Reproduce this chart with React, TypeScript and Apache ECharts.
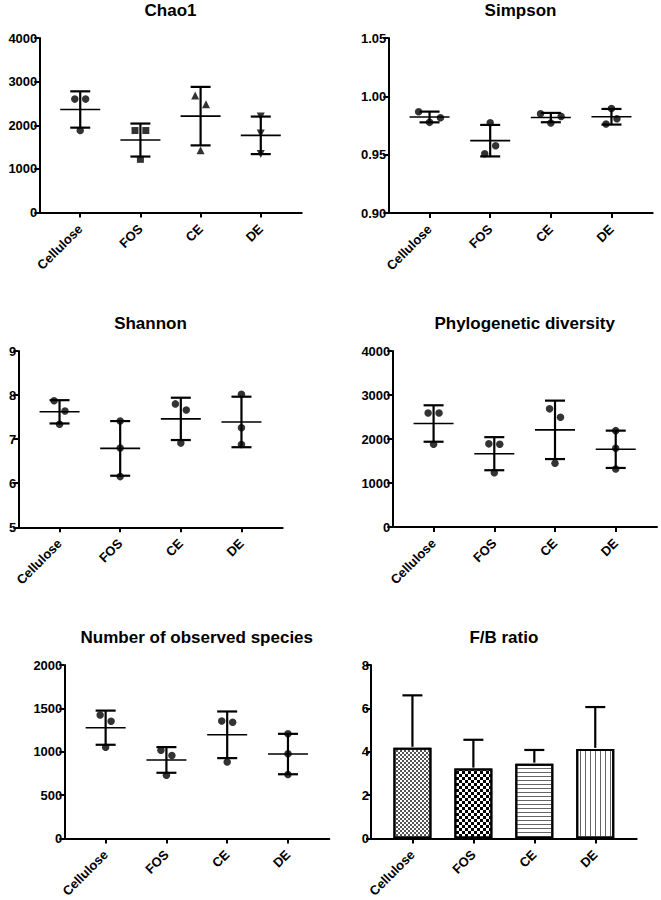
import React, { useEffect, useRef } from 'react';
import * as echarts from 'echarts';

// ---------- data ----------
const categories = ['Cellulose', 'FOS', 'CE', 'DE'];
const tickPositions = [0, 1, 2, 3];

const chao1Points = [[2600, 2600, 1880], [1880, 1880, 1220], [2680, 2480, 1430], [2200, 1810, 1340]];
const chao1Jitter = [[-0.09, 0.09, 0], [-0.09, 0.09, 0], [-0.09, 0.09, 0], [0, 0, 0]];
const chao1Mean = [2362, 1662, 2210, 1770];
const chao1SD = [416, 378, 670, 430];
const chao1Symbols = ['circle', 'rect', 'triangle', 'triangleDown'];

const simpsonPoints = [[0.9868, 0.9817, 0.9777], [0.9774, 0.9577, 0.9508], [0.9851, 0.9828, 0.9771], [0.9896, 0.9808, 0.9763]];
const simpsonJitter = [[-0.18, 0.18, 0], [0, 0.09, -0.09], [-0.17, 0.17, 0], [0, 0.09, -0.09]];
const simpsonMean = [0.9823, 0.962, 0.9818, 0.9825];
const simpsonSD = [0.0046, 0.0135, 0.004, 0.0067];

const shannonPoints = [[7.87, 7.64, 7.34], [7.41, 6.8, 6.15], [7.8, 7.66, 6.91], [8.02, 7.26, 6.88]];
const shannonJitter = [[-0.09, 0.09, 0], [0, 0, 0], [-0.09, 0.09, 0], [0, 0, 0]];
const shannonMean = [7.62, 6.79, 7.46, 7.39];
const shannonSD = [0.264, 0.62, 0.48, 0.573];

const phyloPoints = [[2590, 2590, 1880], [1890, 1880, 1235], [2685, 2495, 1450], [2190, 1790, 1320]];
const phyloJitter = [[-0.09, 0.09, 0], [-0.09, 0.09, 0], [-0.09, 0.09, 0], [0, 0, 0]];
const phyloMean = [2352, 1666, 2208, 1766];
const phyloSD = [414, 376, 664, 424];

const speciesPoints = [[1423, 1351, 1052], [1017, 956, 728], [1355, 1340, 881], [1207, 976, 737]];
const speciesJitter = [[-0.09, 0.09, 0], [-0.09, 0.09, 0], [-0.09, 0.09, 0], [0, 0, 0]];
const speciesMean = [1277, 905, 1195, 973];
const speciesSD = [197, 148, 269, 233];

const fbMean = [4.18, 3.22, 3.45, 4.13];
const fbSD = [2.42, 1.33, 0.63, 1.93];

const FONT = '"Liberation Sans", Arial, Helvetica, sans-serif';

const fbDecals = [
  { symbol: 'rect', symbolSize: 1, dashArrayX: [[2, 2], [0, 2, 2, 0]], dashArrayY: [2, 0], color: '#555', backgroundColor: '#fff' },
  { symbol: 'rect', symbolSize: 1, dashArrayX: [[3, 3], [0, 3, 3, 0]], dashArrayY: [3, 0], color: '#000', backgroundColor: '#fff' },
  { symbol: 'rect', symbolSize: 1, dashArrayX: [1, 0], dashArrayY: [1, 3], color: '#666', backgroundColor: '#fff' },
  { symbol: 'rect', symbolSize: 1, dashArrayX: [1, 4], dashArrayY: [1, 0], color: '#666', backgroundColor: '#fff' },
];

type Panel = {
  title: string;
  grid: { left: number; top: number; width: number; height: number };
  yMin: number; yMax: number; yInterval: number; decimals: number;
  points?: number[][]; jitter?: number[][]; symbols?: string[];
  mean: number[]; sd: number[]; bars?: boolean;
};

const panels: Panel[] = [
  { title: 'Chao1', grid: { left: 39.3, top: 38, width: 262.4, height: 174.6 }, yMin: 0, yMax: 4000, yInterval: 1000, decimals: 0,
    points: chao1Points, jitter: chao1Jitter, symbols: chao1Symbols, mean: chao1Mean, sd: chao1SD },
  { title: 'Simpson', grid: { left: 388.3, top: 38, width: 264.4, height: 175 }, yMin: 0.9, yMax: 1.05, yInterval: 0.05, decimals: 2,
    points: simpsonPoints, jitter: simpsonJitter, mean: simpsonMean, sd: simpsonSD },
  { title: 'Shannon', grid: { left: 18.3, top: 351, width: 264.4, height: 176.3 }, yMin: 5, yMax: 9, yInterval: 1, decimals: 0,
    points: shannonPoints, jitter: shannonJitter, mean: shannonMean, sd: shannonSD },
  { title: 'Phylogenetic diversity', grid: { left: 392.3, top: 351, width: 264.7, height: 176 }, yMin: 0, yMax: 4000, yInterval: 1000, decimals: 0,
    points: phyloPoints, jitter: phyloJitter, mean: phyloMean, sd: phyloSD },
  { title: 'Number of observed species', grid: { left: 64.3, top: 665, width: 265, height: 175.7 }, yMin: 0, yMax: 2000, yInterval: 500, decimals: 0,
    points: speciesPoints, jitter: speciesJitter, mean: speciesMean, sd: speciesSD },
  { title: 'F/B ratio', grid: { left: 371, top: 665, width: 265.7, height: 175.7 }, yMin: 0, yMax: 8, yInterval: 2, decimals: 0,
    mean: fbMean, sd: fbSD, bars: true },
];

function buildOption() {
  const grids: any[] = [];
  const xAxes: any[] = [];
  const yAxes: any[] = [];
  const series: any[] = [];
  const graphics: any[] = [];

  panels.forEach((p, i) => {
    grids.push({ ...p.grid, containLabel: false });
    xAxes.push({
      type: 'value', gridIndex: i, min: -0.68, max: 3.68,
      axisLine: { show: true, onZero: false, lineStyle: { color: '#000', width: 2 } },
      axisTick: { show: true, customValues: tickPositions, length: 5, lineStyle: { color: '#000', width: 2 } },
      axisLabel: {
        show: true, customValues: tickPositions, rotate: 45, margin: 14,
        formatter: (v: number) => categories[Math.round(v)] ?? '',
        color: '#000', fontFamily: FONT, fontWeight: 'bold', fontSize: 13,
      },
      splitLine: { show: false },
    });
    yAxes.push({
      type: 'value', gridIndex: i, min: p.yMin, max: p.yMax, interval: p.yInterval,
      axisLine: { show: true, onZero: false, lineStyle: { color: '#000', width: 2 } },
      axisTick: { show: true, length: 5, lineStyle: { color: '#000', width: 2 } },
      axisLabel: {
        show: true, margin: 2, color: '#000', fontFamily: FONT, fontWeight: 'bold', fontSize: 13,
        formatter: (v: number) => v.toFixed(p.decimals),
      },
      splitLine: { show: false },
    });

    graphics.push({
      type: 'text', x: p.grid.left + p.grid.width / 2, y: p.grid.top - 27.5,
      style: {
        text: p.title, fill: '#000', font: `bold 17px ${FONT}`,
        align: 'center', verticalAlign: 'middle', textAlign: 'center', textVerticalAlign: 'middle',
      },
    });

    if (p.bars) {
      series.push({
        type: 'bar', xAxisIndex: i, yAxisIndex: i, barWidth: 38,
        data: p.mean.map((m, k) => ({
          value: [k, m],
          itemStyle: { color: '#fff', borderColor: '#000', borderWidth: 2, decal: fbDecals[k] },
        })),
        z: 2,
      });
      series.push({
        type: 'custom', xAxisIndex: i, yAxisIndex: i, z: 3,
        data: p.mean.map((m, k) => [k, m, p.sd[k]]),
        renderItem: (_params: any, api: any) => {
          const x = api.value(0), m = api.value(1), s = api.value(2);
          const c = api.coord([x, m]);
          const t = api.coord([x, m + s]);
          return {
            type: 'group',
            children: [
              { type: 'line', shape: { x1: c[0], y1: c[1] - 1, x2: t[0], y2: t[1] }, style: { stroke: '#000', lineWidth: 2.2 } },
              { type: 'line', shape: { x1: t[0] - 10, y1: t[1], x2: t[0] + 10, y2: t[1] }, style: { stroke: '#000', lineWidth: 2.2 } },
            ],
          };
        },
      });
    } else {
      const pts: any[] = [];
      p.points!.forEach((grp, k) => {
        grp.forEach((v, j) => {
          const sym = p.symbols ? p.symbols[k] : 'circle';
          const isTriDown = sym === 'triangleDown';
          pts.push({
            value: [k + p.jitter![k][j], v],
            symbol: isTriDown ? 'triangle' : sym,
            symbolRotate: isTriDown ? 180 : 0,
            symbolSize: sym === 'circle' ? 7.5 : sym === 'rect' ? 7 : 8,
          });
        });
      });
      series.push({
        type: 'scatter', xAxisIndex: i, yAxisIndex: i, z: 2,
        itemStyle: { color: '#000' },
        data: pts,
      });
      series.push({
        type: 'custom', xAxisIndex: i, yAxisIndex: i, z: 3,
        data: p.mean.map((m, k) => [k, m, p.sd[k]]),
        renderItem: (_params: any, api: any) => {
          const x = api.value(0), m = api.value(1), s = api.value(2);
          const c = api.coord([x, m]);
          const t = api.coord([x, m + s]);
          const b = api.coord([x, m - s]);
          return {
            type: 'group',
            children: [
              { type: 'line', shape: { x1: c[0] - 20, y1: c[1], x2: c[0] + 20, y2: c[1] }, style: { stroke: '#000', lineWidth: 1.6 } },
              { type: 'line', shape: { x1: t[0], y1: t[1], x2: b[0], y2: b[1] }, style: { stroke: '#000', lineWidth: 2.2 } },
              { type: 'line', shape: { x1: t[0] - 10, y1: t[1], x2: t[0] + 10, y2: t[1] }, style: { stroke: '#000', lineWidth: 2.2 } },
              { type: 'line', shape: { x1: b[0] - 10, y1: b[1], x2: b[0] + 10, y2: b[1] }, style: { stroke: '#000', lineWidth: 2.2 } },
            ],
          };
        },
      });
    }
  });

  return {
    animation: false,
    backgroundColor: '#fff',
    grid: grids,
    xAxis: xAxes,
    yAxis: yAxes,
    series,
    graphic: graphics,
  };
}

export default function App() {
  const ref = useRef<HTMLDivElement>(null);
  useEffect(() => {
    if (!ref.current) return;
    const chart = echarts.init(ref.current, undefined, { renderer: 'svg' });
    chart.setOption(buildOption() as any);
    return () => chart.dispose();
  }, []);
  return (
    <div
      ref={ref}
      style={{ position: 'fixed', left: 0, top: 0, width: 661, height: 900, background: '#fff' }}
    />
  );
}
